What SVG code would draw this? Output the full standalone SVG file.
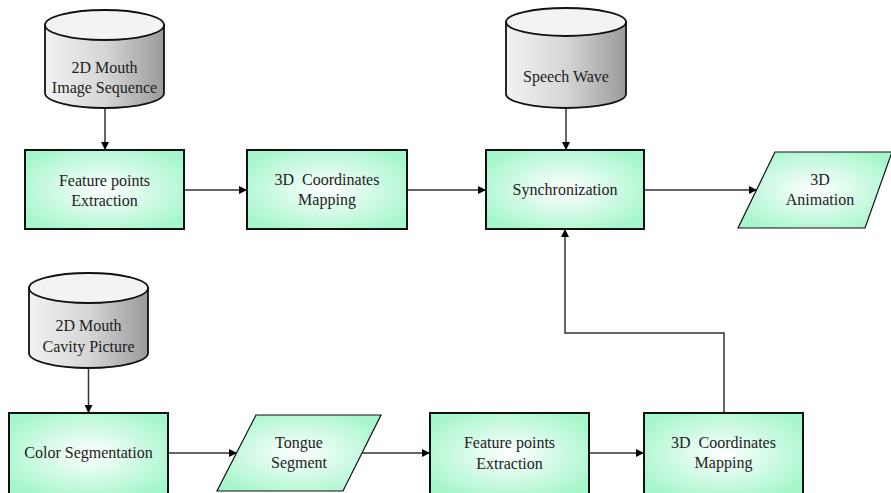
<svg xmlns="http://www.w3.org/2000/svg" width="891" height="493" viewBox="0 0 891 493">
<style>
  .t { font-family: "Liberation Serif", "Times New Roman", serif; font-size: 16px; fill: #222; text-anchor: middle; }
  .box { fill: url(#mint); stroke: #111; stroke-width: 2; }
  .para { fill: url(#mint); stroke: #111; stroke-width: 1.2; }
  .cylside { fill: url(#gray); stroke: #111; stroke-width: 1.8; }
  .cyltop { fill: #f3f3f3; stroke: #111; stroke-width: 1.8; }
  .conn { fill: none; stroke: #333; stroke-width: 1.5; }
</style>
<defs>
  <radialGradient id="mint" cx="50%" cy="50%" r="60%">
    <stop offset="0" stop-color="#ffffff"/>
    <stop offset="1" stop-color="#a6f6cc"/>
  </radialGradient>
  <linearGradient id="gray" x1="0" y1="0" x2="1" y2="0">
    <stop offset="0" stop-color="#f2f2f2"/>
    <stop offset="0.5" stop-color="#d6d6d6"/>
    <stop offset="1" stop-color="#9a9a9a"/>
  </linearGradient>
  <marker id="arr" viewBox="0 0 10 10" refX="10" refY="5" markerWidth="8" markerHeight="8" markerUnits="userSpaceOnUse" orient="auto">
    <path d="M0,0 L10,5 L0,10 z" fill="#000"/>
  </marker>
</defs>

<g id="connectors">
  <line class="conn" x1="105" y1="108" x2="105" y2="150" marker-end="url(#arr)"/>
  <line class="conn" x1="184" y1="190" x2="247" y2="190" marker-end="url(#arr)"/>
  <line class="conn" x1="407" y1="190" x2="486" y2="190" marker-end="url(#arr)"/>
  <line class="conn" x1="566" y1="108" x2="566" y2="150" marker-end="url(#arr)"/>
  <line class="conn" x1="644" y1="190" x2="757" y2="190" marker-end="url(#arr)"/>
  <line class="conn" x1="88.5" y1="368" x2="88.5" y2="413" marker-end="url(#arr)"/>
  <line class="conn" x1="168" y1="453" x2="237" y2="453" marker-end="url(#arr)"/>
  <line class="conn" x1="362" y1="453" x2="430" y2="453" marker-end="url(#arr)"/>
  <line class="conn" x1="589" y1="453" x2="644" y2="453" marker-end="url(#arr)"/>
  <polyline class="conn" points="724,413 724,333 565,333 565,229" marker-end="url(#arr)"/>
</g>

<g id="db-image-seq">
  <path class="cylside" d="M45,25 L45,93 A59.5,15 0 0 0 164,93 L164,25 Z"/>
  <ellipse class="cyltop" cx="104.5" cy="25" rx="59.5" ry="15"/>
  <text class="t" x="104.5" y="73">2D Mouth</text>
  <text class="t" x="104.5" y="93">Image Sequence</text>
</g>

<g id="feature-top">
  <rect class="box" x="25" y="150" width="159" height="79"/>
  <text class="t" x="104.5" y="186">Feature points</text>
  <text class="t" x="104.5" y="206">Extraction</text>
</g>

<g id="coord-top">
  <rect class="box" x="247" y="150" width="160" height="79"/>
  <text class="t" x="327" y="185">3D&#160; Coordinates</text>
  <text class="t" x="327" y="205">Mapping</text>
</g>

<g id="db-speech">
  <path class="cylside" d="M506,22 L506,94 A60,14 0 0 0 626,94 L626,22 Z"/>
  <ellipse class="cyltop" cx="566" cy="22" rx="60" ry="14"/>
  <text class="t" x="566" y="82">Speech Wave</text>
</g>

<g id="sync">
  <rect class="box" x="486" y="150" width="158" height="79"/>
  <text class="t" x="565" y="195">Synchronization</text>
</g>

<g id="animation">
  <polygon class="para" points="775,152 892,152 865,228 738,228"/>
  <text class="t" x="820" y="185">3D</text>
  <text class="t" x="820" y="205">Animation</text>
</g>

<g id="db-cavity">
  <path class="cylside" d="M29,288 L29,353 A59.5,15 0 0 0 148,353 L148,288 Z"/>
  <ellipse class="cyltop" cx="88.5" cy="288" rx="59.5" ry="15"/>
  <text class="t" x="88.5" y="331">2D Mouth</text>
  <text class="t" x="88.5" y="352">Cavity Picture</text>
</g>

<g id="color-seg">
  <rect class="box" x="9" y="413" width="159" height="82"/>
  <text class="t" x="88.5" y="458">Color Segmentation</text>
</g>

<g id="tongue">
  <polygon class="para" points="256,415 381,415 343,491 217,491"/>
  <text class="t" x="299" y="448">Tongue</text>
  <text class="t" x="299" y="468">Segment</text>
</g>

<g id="feature-bottom">
  <rect class="box" x="430" y="413" width="159" height="82"/>
  <text class="t" x="509.5" y="448">Feature points</text>
  <text class="t" x="509.5" y="469">Extraction</text>
</g>

<g id="coord-bottom">
  <rect class="box" x="644" y="413" width="159" height="82"/>
  <text class="t" x="723.5" y="448">3D&#160; Coordinates</text>
  <text class="t" x="723.5" y="468">Mapping</text>
</g>
</svg>
